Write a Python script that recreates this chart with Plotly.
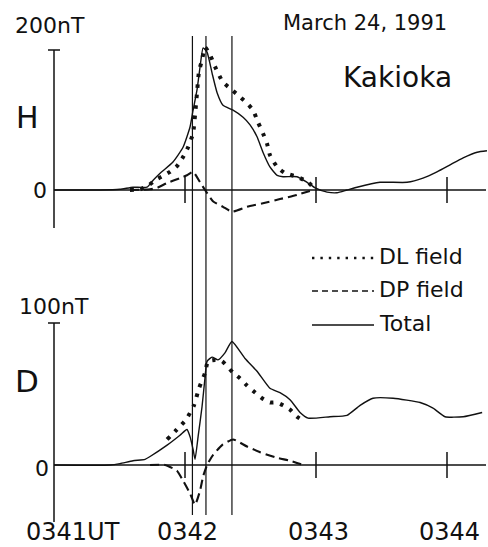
import plotly.graph_objects as go

W, H = 488, 547
FONT = "DejaVu Sans"

# Time axis: seconds after 03:41:00 UT
tick_times = [0, 60, 120, 180]
tick_labels = ["0341UT", "0342", "0343", "0344"]
event_times = [63.4, 69.6, 81.5]

# H component (nT)
h_total_t = [0, 21.1, 30.2, 36.2, 42.6, 45.4, 48.6, 54.5, 59.1, 62.3, 63.7, 65.5, 66.9, 68.3,
             70.1, 72.4, 74.7, 77.4, 82.0, 86.6, 89.8, 93.0, 95.7, 98.9, 102.2, 104.9, 111.3,
             115.9, 119.6, 125.1, 129.6, 134.2, 138.8, 149.3, 161.7, 169.0, 175.4, 181.4,
             187.4, 193.8, 198.3]
h_total = [0, 0, 1, 4, 4, 14, 24, 40, 61, 90, 114, 143, 176, 203, 197, 167, 139, 121, 114,
           104, 93, 76, 54, 33, 21, 19, 19, 11, 3, -3, -4, 0, 4, 11, 11, 17, 26, 36, 46, 54, 56]

h_dl_t = [34.8, 39.4, 43.1, 46.3, 49.9, 53.1, 56.3, 59.1, 61.4, 63.7, 64.6, 65.5, 66.4, 67.8,
          69.2, 71.5, 73.8, 77.4, 81.5, 85.2, 88.4, 91.2, 93.4, 95.7, 97.6, 98.9, 102.2, 105.8,
          111.3, 116.4, 119.6]
h_dl = [0, 1, 6, 14, 20, 26, 34, 47, 61, 81, 107, 139, 169, 186, 204, 193, 176, 154, 143, 133,
        124, 114, 97, 81, 66, 50, 33, 24, 19, 11, 1]

h_dp_t = [34.8, 44.0, 47.2, 51.8, 57.7, 60.9, 63.7, 66.9, 69.2, 72.8, 77.4, 81.5, 88.4, 95.7,
          103.5, 111.3, 118.6]
h_dp = [0, 1, 3, 10, 17, 21, 26, 11, 0, -16, -24, -31, -24, -19, -13, -7, 0]

# D component (nT)
d_total_t = [0, 25.7, 30.2, 36.2, 41.7, 44.0, 51.8, 57.7, 60.9, 62.3, 63.7, 64.6, 66.0, 67.8,
             69.2, 70.1, 72.4, 75.1, 78.3, 81.5, 87.5, 93.0, 98.9, 103.5, 108.1, 112.7, 116.4,
             126.4, 134.2, 140.2, 146.1, 155.3, 167.7, 173.6, 179.1, 187.4, 196.1]
d_total = [0, 0, 1, 3, 4, 6, 14, 21, 25, 20, 11, 4, 20, 41, 62, 73, 76, 74, 79, 87, 75, 66, 54,
           51, 46, 37, 33, 34, 35, 42, 47, 47, 44, 40, 34, 34, 37]

d_dl_t = [51.8, 56.3, 60.5, 64.1, 66.4, 69.2, 70.5, 73.8, 77.0, 82.0, 85.2, 88.4, 92.1, 95.3,
          98.9, 102.2, 104.9, 108.1, 111.3, 114.5]
d_dl = [18, 25, 32, 42, 54, 65, 73, 74, 73, 65, 61, 56, 51, 47, 44, 44, 42, 39, 34, 31]

d_dp_t = [44.0, 50.8, 56.3, 59.1, 62.3, 64.6, 66.9, 68.3, 70.1, 72.8, 77.0, 82.0, 88.4, 94.4,
          102.2, 108.1, 114.1]
d_dp = [0, 0, -4, -11, -20, -28, -18, -8, 0, 7, 14, 18, 13, 9, 5, 3, 0]

# Scale bars: H full scale 200 nT, D full scale 100 nT
h_scale, d_scale = 200, 100

# Pixel geometry of the page
PX_PER_S = 131 / 60.0
X0 = 54                    # pixel column of 03:41
H_ZERO, H_PX = 190, 0.70   # pixel row of H=0, pixels per nT
D_ZERO, D_PX = 465, 1.42   # pixel row of D=0, pixels per nT

xr = [-X0 / PX_PER_S, (W - X0) / PX_PER_S]
yr_h = [-(H - H_ZERO) / H_PX, H_ZERO / H_PX]
yr_d = [-(H - D_ZERO) / D_PX, D_ZERO / D_PX]


def px(x):
    return x / W


def py(y):
    return 1 - y / H


BLACK = "#111111"
DOT = dict(color=BLACK, width=4.0, dash="3.5px,7px")
DASH = dict(color=BLACK, width=2.1, dash="9px,5px")
SOLID = dict(color=BLACK, width=1.4)

fig = go.Figure()
for t, v, line, ax in [
    (h_total_t, h_total, SOLID, "y"),
    (h_dl_t, h_dl, DOT, "y"),
    (h_dp_t, h_dp, DASH, "y"),
    (d_total_t, d_total, SOLID, "y2"),
    (d_dl_t, d_dl, DOT, "y2"),
    (d_dp_t, d_dp, DASH, "y2"),
]:
    fig.add_trace(go.Scatter(x=t, y=v, mode="lines", yaxis=ax, showlegend=False,
                             line=dict(shape="spline", smoothing=0.5, **line),
                             hoverinfo="skip"))

shapes = []
AX = dict(color=BLACK, width=1.5)
t_end = (486 - X0) / PX_PER_S

for yref, zero_px, scale_px, top, bottom_px in [
    ("y", H_ZERO, H_PX, h_scale, 228),
    ("y2", D_ZERO, D_PX, d_scale, 522),
]:
    bottom = -(bottom_px - zero_px) / scale_px
    # vertical axis with a cap at full scale
    shapes.append(dict(type="line", xref="x", yref=yref, x0=0, x1=0, y0=bottom, y1=top, line=AX))
    shapes.append(dict(type="line", xref="x", yref=yref, xsizemode="pixel", xanchor=0,
                       x0=-6, x1=6, y0=top, y1=top, line=AX))
    # zero line
    shapes.append(dict(type="line", xref="x", yref=yref, x0=0, x1=t_end, y0=0, y1=0, line=AX))
    # minute ticks crossing the zero line
    for tt in tick_times[1:]:
        shapes.append(dict(type="line", xref="x", yref=yref, ysizemode="pixel", yanchor=0,
                           x0=tt, x1=tt, y0=-13, y1=13, line=AX))

# event markers through both panels
for tt in event_times:
    shapes.append(dict(type="line", xref="x", yref="paper", x0=tt, x1=tt,
                       y0=py(515), y1=py(36), line=dict(color=BLACK, width=1.2)))

# legend samples
LEG_X0, LEG_X1 = 312, 374
legend_rows = [("DL field", 258, dict(color=BLACK, width=2.4, dash="2.4px,6px")),
               ("DP field", 291, dict(color=BLACK, width=1.3, dash="6px,4px")),
               ("Total", 325, dict(color=BLACK, width=1.4))]
for _, yy, ln in legend_rows:
    shapes.append(dict(type="line", xref="paper", yref="paper", x0=px(LEG_X0), x1=px(LEG_X1),
                       y0=py(yy), y1=py(yy), line=ln))

ann = []


def text(s, x, y, size, xanchor="center"):
    ann.append(dict(text=s, x=px(x), y=py(y), xref="paper", yref="paper", showarrow=False,
                    xanchor=xanchor, yanchor="middle",
                    font=dict(family=FONT, size=size, color=BLACK)))


text(f"{h_scale}nT", 50, 25, 22)
text(f"{d_scale}nT", 54, 306, 22)
text("H", 27, 117, 30)
text("D", 27, 381, 31)
text("0", 40, 190, 22)
text("0", 42, 468, 22)
text("March 24, 1991", 365, 23, 21)
text("Kakioka", 397, 78, 28)
for label, yy, _ in legend_rows:
    text(label, 377, yy - 2, 22, xanchor="left")

for tt, lab in zip(tick_times, tick_labels):
    ann.append(dict(text=lab, x=tt, y=0, xref="x", yref="paper", showarrow=False,
                    xanchor="left", xshift=-30, yanchor="bottom", yshift=-1,
                    font=dict(family=FONT, size=24, color=BLACK)))

fig.update_layout(
    width=W, height=H, autosize=False,
    margin=dict(l=0, r=0, t=0, b=0, pad=0),
    paper_bgcolor="white", plot_bgcolor="white",
    xaxis=dict(range=xr, visible=False, fixedrange=True),
    yaxis=dict(range=yr_h, visible=False, fixedrange=True),
    yaxis2=dict(range=yr_d, visible=False, overlaying="y", fixedrange=True),
    shapes=shapes, annotations=ann, showlegend=False,
)

fig.write_html("out.html", config={"displayModeBar": False})
